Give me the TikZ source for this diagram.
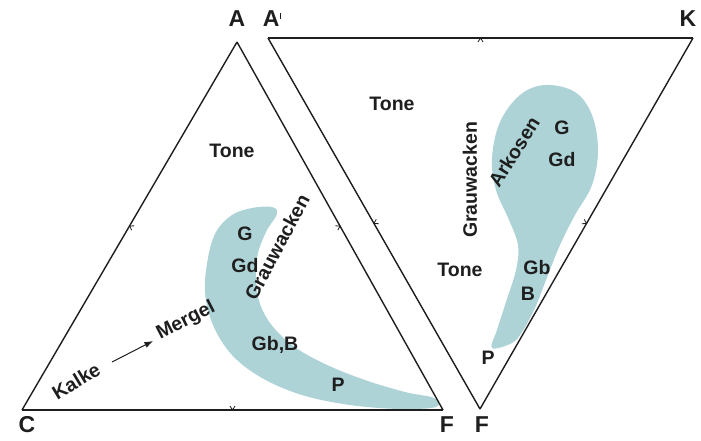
\documentclass[tikz,border=0pt]{standalone}
\usepackage{fontspec}
\setmainfont{Liberation Sans}
\usepackage{tikz}
\usetikzlibrary{arrows.meta,decorations.markings}
\definecolor{blobfill}{RGB}{174,211,215}
\definecolor{lineink}{RGB}{30,30,30}
\tikzset{
  side/.style={draw=lineink, line width=1.4pt,
    postaction={decorate, decoration={markings,
      mark=at position 0.5 with {\draw[line width=0.8pt] (-2.5pt,4pt) -- (0,0) -- (2.5pt,4pt);}}}},
  blob/.style={fill=blobfill, draw=none},
  vtx/.style={font=\fontsize{23}{23}\selectfont\bfseries, text=lineink, inner sep=0pt},
  lbl/.style={font=\fontsize{19.5}{19.5}\selectfont\bfseries, text=lineink, inner sep=0pt},
  arr/.style={-{Latex[length=3mm,width=2.2mm]}, draw=lineink, line width=1pt}
}
\begin{document}
\begin{tikzpicture}[x=1pt, y=-1pt]
  \useasboundingbox (0,0) rectangle (701,440);
  % corner points
  \coordinate (A) at (237,42);
  \coordinate (C) at (22,410);
  \coordinate (F) at (443,410);
  \coordinate (A2) at (268,38);
  \coordinate (K) at (693,38);
  \coordinate (F2) at (480,409);
  % fields
  \fill[blob] plot[smooth cycle, tension=0.6] coordinates {
    (252,208) (272,207) (277,214) (266,232) (257,258) (257,292) (268,320)
    (292,345) (325,364) (365,380) (405,392) (434,398) (436,407) (400,409)
    (350,405) (302,395) (262,378) (232,355) (213,325) (205,292) (208,258)
    (216,232) (232,215)};
  \fill[blob] plot[smooth cycle, tension=0.6] coordinates {
    (545,85) (575,92) (592,115) (598,150) (592,185) (575,215) (560,245)
    (546,280) (535,308) (522,332) (512,343) (492,348) (497,330) (506,302)
    (516,270) (518,245) (509,220) (496,190) (492,158) (500,122) (520,95)};
  % triangles
  \draw[side] (A) -- (C);
  \draw[side] (C) -- (F);
  \draw[side] (F) -- (A);
  \draw[side] (A2) -- (F2);
  \draw[side] (F2) -- (K);
  \draw[side] (K) -- (A2);
  % corners
  \node[vtx] (lA) at (237,19) {A};
  \node[vtx] (lC) at (27,425) {C};
  \node[vtx] (lF) at (447,425) {F};
  \node[vtx] (lA2) at (272,19) {A\raisebox{8pt}{\rule{1.4pt}{6pt}}};
  \node[vtx] (lK) at (688,19) {K};
  \node[vtx] (lF2) at (482,425) {F};
  % left field
  \node[lbl] (tone1) at (232,151) {Tone};
  \node[lbl] (g1) at (245,234) {G};
  \node[lbl] (gd1) at (245,266) {Gd};
  \node[lbl, rotate=62] (grau1) at (277,247) {Grauwacken};
  \node[lbl] (gbb) at (275,345) {Gb,B};
  \node[lbl] (p1) at (338,385) {P};
  \node[lbl, rotate=31] (kalke) at (76,381) {Kalke};
  \node[lbl, rotate=27] (mergel) at (186,321) {Mergel};
  \coordinate (k0) at (112,362);
  \coordinate (m0) at (153,341);
  \draw[arr] (k0) -- (m0);
  % right field
  \node[lbl] (tone2) at (392,104) {Tone};
  \node[lbl] (tone3) at (460,270) {Tone};
  \node[lbl, rotate=90] (grau2) at (470,180) {Grauwacken};
  \node[lbl, rotate=58] (ark) at (514,152) {Arkosen};
  \node[lbl] (g2) at (562,128) {G};
  \node[lbl] (gd2) at (562,160) {Gd};
  \node[lbl] (gb2) at (537,268) {Gb};
  \node[lbl] (b2) at (528,294) {B};
  \node[lbl] (p2) at (488,358) {P};
\end{tikzpicture}
\end{document}
